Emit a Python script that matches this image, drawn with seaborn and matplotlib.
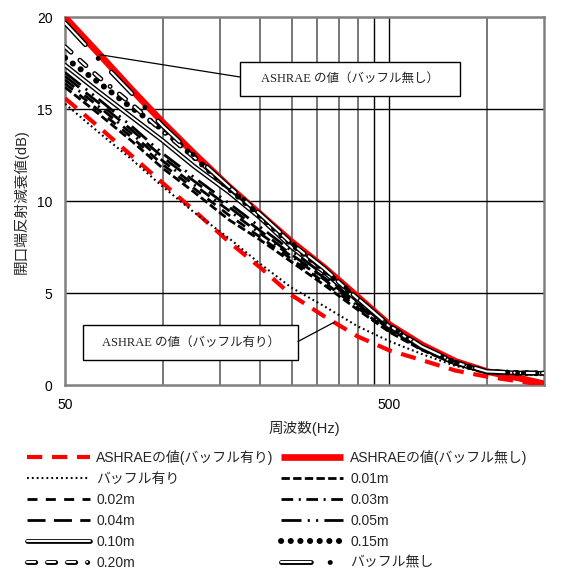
import numpy as np
import matplotlib
matplotlib.use("Agg")
import matplotlib.pyplot as plt
import seaborn as sns
from matplotlib.patches import Rectangle

# data
freqs = [50, 63, 80, 100, 125, 160, 200, 250, 315, 400, 500, 630, 800, 1000, 1250, 1500]

ashrae_with = [15.6, 14.1, 12.5, 11.0, 9.5, 7.8, 6.4, 4.9, 3.75, 2.65, 1.9, 1.37, 0.8, 0.47, 0.22, 0.02]
ashrae_without = [20.0, 18.1, 16.1, 14.3, 12.6, 10.8, 9.3, 7.8, 6.4, 4.8, 3.3, 2.2, 1.3, 0.75, 0.4, 0.08]
baffle_with = [15.3, 13.8, 12.3, 10.8, 9.4, 8.0, 6.6, 5.3, 4.3, 3.2, 2.4, 1.7, 1.05, 0.7, 0.6, 0.55]
gap_001 = [16.2, 14.8, 13.3, 11.8, 10.5, 9.0, 7.9, 6.7, 5.45, 4.1, 2.9, 1.92, 1.15, 0.72, 0.67, 0.65]
gap_002 = [16.4, 15.0, 13.5, 12.0, 10.7, 9.25, 8.05, 6.85, 5.6, 4.2, 2.95, 1.95, 1.16, 0.72, 0.67, 0.65]
gap_003 = [16.6, 15.2, 13.7, 12.2, 10.9, 9.5, 8.25, 7.0, 5.75, 4.3, 3.05, 1.97, 1.17, 0.72, 0.67, 0.65]
gap_004 = [16.8, 15.4, 13.9, 12.4, 11.1, 9.7, 8.4, 7.1, 5.85, 4.4, 3.1, 2.0, 1.18, 0.72, 0.67, 0.65]
gap_005 = [17.0, 15.6, 14.1, 12.6, 11.3, 9.9, 8.6, 7.3, 6.0, 4.5, 3.15, 2.02, 1.19, 0.72, 0.67, 0.65]
gap_010 = [17.4, 16.0, 14.6, 13.3, 11.9, 10.5, 9.1, 7.5, 6.15, 4.6, 3.2, 2.05, 1.2, 0.73, 0.67, 0.65]
gap_015 = [17.8, 16.5, 15.1, 13.9, 12.4, 10.7, 9.2, 7.65, 6.25, 4.65, 3.2, 2.05, 1.22, 0.73, 0.67, 0.65]
gap_020 = [18.4, 16.8, 15.3, 13.8, 12.4, 10.8, 9.3, 7.7, 6.3, 4.7, 3.25, 2.08, 1.24, 0.74, 0.68, 0.66]
baffle_without = [19.7, 17.8, 15.9, 14.1, 12.5, 10.8, 9.3, 7.75, 6.35, 4.72, 3.25, 2.1, 1.25, 0.75, 0.68, 0.66]

lab_ashrae_with = "ASHRAEの値(バッフル有り)"
lab_ashrae_without = "ASHRAEの値(バッフル無し)"
lab_baffle_with = "バッフル有り"
lab_baffle_without = "バッフル無し"
gap_labels = ["0.01m", "0.02m", "0.03m", "0.04m", "0.05m", "0.10m", "0.15m", "0.20m"]

x_ticks = [50, 500]
grid_minor = [100, 150, 200, 250, 300, 350, 400, 1000]
grid_dark = [450]
y_ticks = [0, 5, 10, 15, 20]

sns.set_theme(style="white")
plt.rcParams["font.family"] = ["Liberation Sans", "Noto Sans CJK JP", "DejaVu Sans"]
plt.rcParams["lines.scale_dashes"] = False

SANS = ["Liberation Sans", "Noto Sans CJK JP", "DejaVu Sans"]
SERIF = ["Liberation Serif", "Noto Sans CJK JP", "DejaVu Sans"]

W, H = 568, 570
fig = plt.figure(figsize=(W / 100, H / 100), dpi=100)
ax = fig.add_axes([65 / W, 1 - 385.3 / H, (544 - 65) / W, (385.3 - 17.3) / H])

DOT = 0.15  # near-zero dash -> round dot with round caps


def draw(y, color, lw, dashes=None, cap="butt", z=3):
    sns.lineplot(x=freqs, y=y, ax=ax, color=color, linewidth=lw, zorder=z)
    line = ax.lines[-1]
    if dashes is not None:
        line.set_dashes(dashes)
    line.set_dash_capstyle(cap)
    line.set_solid_capstyle(cap)
    return line


# ASHRAE reference curves (red, underneath)
h_aw = draw(ashrae_with, "#ff0000", 3.0, dashes=(11, 7), z=3)
h_ao = draw(ashrae_without, "#ff0000", 4.8, z=3)

# measured curves
h_bw = draw(baffle_with, "black", 1.5, dashes=(1.3, 2.2), z=4)
h_001 = draw(gap_001, "black", 2.0, dashes=(6, 2.4), z=4)
h_002 = draw(gap_002, "black", 2.0, dashes=(7.2, 6), z=4)
h_003 = draw(gap_003, "black", 2.0, dashes=(8.4, 4, 1.5, 4), z=4)
h_004 = draw(gap_004, "black", 2.0, dashes=(13, 6), z=4)
h_005 = draw(gap_005, "black", 2.0, dashes=(14.4, 4.5, 1.5, 4.5, 1.5, 4.5), z=4)

h_010 = (draw(gap_010, "black", 3.4, cap="round", z=5),
         draw(gap_010, "white", 1.4, cap="round", z=5.1))
h_015 = draw(gap_015, "black", 4.3, dashes=(DOT, 6.8), cap="round", z=5.2)
pat20 = (5.9, 8.5, 5.9, 8.5, 5.9, 8.5, DOT, 8.5)
h_020 = (draw(gap_020, "black", 3.5, dashes=pat20, cap="round", z=5.3),
         draw(gap_020, "white", 1.5, dashes=pat20, cap="round", z=5.4))
h_bo = (draw(baffle_without, "black", 3.5, dashes=(21.5, 13.5, DOT, 13.5), cap="round", z=5.5),
        draw(baffle_without, "white", 1.5, dashes=(21.5, 27.0 + DOT), cap="round", z=5.6))

# axes
ax.set_xscale("log")
ax.set_xlim(50, 1500)
ax.set_ylim(0, 20)
ax.set_xticks(x_ticks)
ax.set_xticklabels([str(t) for t in x_ticks])
ax.xaxis.set_minor_locator(matplotlib.ticker.NullLocator())
ax.set_yticks(y_ticks)
ax.tick_params(length=0, labelsize=10, pad=9, colors="black")
ax.grid(False)
for f in grid_minor:
    ax.axvline(f, color="#606060", lw=1.2, zorder=1)
for f in grid_dark + x_ticks[1:]:
    ax.axvline(f, color="black", lw=1.0, zorder=1)
for v in y_ticks[1:-1]:
    ax.axhline(v, color="black", lw=1.0, zorder=1)
for s in ax.spines.values():
    s.set_color("#808080")
    s.set_linewidth(1.8)

ax.set_xlabel("周波数(Hz)", fontsize=10.5)
ax.set_ylabel("開口端反射減衰値(dB)", fontsize=10.5)
ax.xaxis.set_label_coords(0.5, -0.097)
ax.yaxis.set_label_coords(-0.075, 0.5)


# callout boxes with leader lines
def callout(x0, y0, x1, y1, text, attach, series):
    ax.add_patch(Rectangle((x0 / W, 1 - y1 / H), (x1 - x0) / W, (y1 - y0) / H,
                           transform=fig.transFigure, facecolor="white",
                           edgecolor="black", lw=1.0, zorder=8))
    ax.text((x0 + x1) / 2 / W, 1 - (y0 + y1) / 2 / H, text, transform=fig.transFigure,
            ha="center", va="center", fontsize=9, family=SERIF, color="#222222", zorder=9)
    fx = attach[0]
    fy = np.interp(np.log10(fx), np.log10(freqs), series)
    ax.annotate("", xy=(fx, fy), xycoords="data",
                xytext=(attach[1] / W, 1 - attach[2] / H), textcoords="figure fraction",
                arrowprops=dict(arrowstyle="-", lw=0.9, color="black", shrinkA=0, shrinkB=0),
                zorder=9)


callout(240, 62, 460, 96, "ASHRAE の値（バッフル無し）", (64, 240, 77), ashrae_without)
callout(83, 325, 298, 360, "ASHRAE の値（バッフル有り）", (338, 298, 341.5), ashrae_with)

# legend (column-major order)
handles = [h_aw, h_bw, h_002, h_004, h_010, h_020,
           h_ao, h_001, h_003, h_005, h_015, h_bo]
labels = [lab_ashrae_with, lab_baffle_with, gap_labels[1], gap_labels[3], gap_labels[5], gap_labels[7],
          lab_ashrae_without, gap_labels[0], gap_labels[2], gap_labels[4], gap_labels[6], lab_baffle_without]
fig.legend(handles, labels, loc="upper left", bbox_to_anchor=(27 / W, 1 - 450 / H),
           ncol=2, frameon=False, handlelength=4.5, handletextpad=0.5,
           columnspacing=0.5, labelspacing=0.5, borderpad=0, borderaxespad=0,
           prop={"family": SANS, "size": 10})

fig.savefig("out.png", dpi=100)
